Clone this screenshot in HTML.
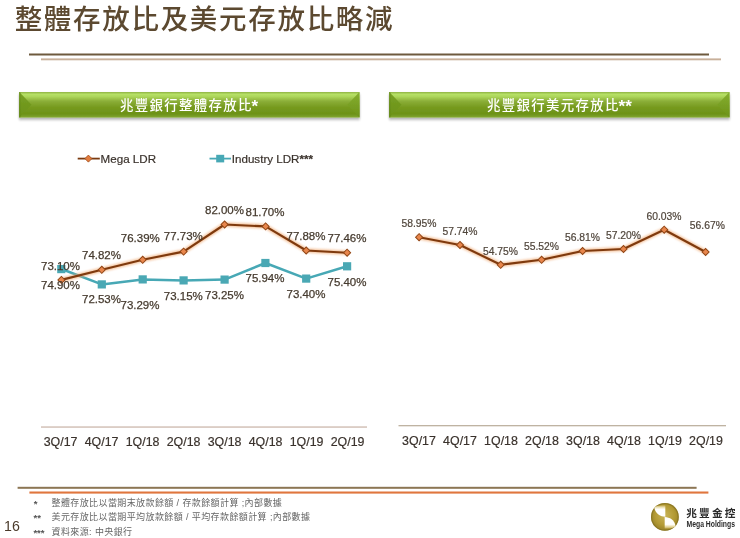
<!DOCTYPE html>
<html lang="zh-Hant">
<head>
<meta charset="utf-8">
<title>整體存放比及美元存放比略減</title>
<style>
html,body{margin:0;padding:0;background:#fff;}
body{width:740px;height:538px;overflow:hidden;position:relative;font-family:"Liberation Sans","Noto Sans CJK TC",sans-serif;}
svg{position:absolute;left:0;top:0;display:block;}
text{font-family:"Liberation Sans","Noto Sans CJK TC",sans-serif;}
.ttl{font-size:27.5px;fill:#5c4930;font-weight:500;letter-spacing:1.7px;}
.bar{font-size:13.4px;fill:#fff;font-weight:500;letter-spacing:1.37px;}
.ast{font-weight:700;font-size:17px;letter-spacing:0;}
.lbl{font-size:11.5px;fill:#453a2e;stroke:#453a2e;stroke-width:0.25px;}
.ax{font-size:12.4px;fill:#3a322c;stroke:#3a322c;stroke-width:0.2px;}
.leg{font-size:11.6px;fill:#3a322c;stroke:#3a322c;stroke-width:0.2px;}
.fn{font-size:9px;fill:#666;letter-spacing:0.4px;}
.pg{font-size:14.2px;fill:#4a3a2a;}
.fa{font-size:9.6px;font-weight:700;letter-spacing:0;fill:#555;}
.lg1{font-size:10.7px;fill:#2a2a2a;font-weight:700;letter-spacing:2.2px;}
.lg2{font-size:8.3px;fill:#2a2a2a;font-weight:700;}
</style>
</head>
<body>
<svg width="740" height="538" viewBox="0 0 740 538">
<defs>
  <linearGradient id="gbar" x1="0" y1="0" x2="0" y2="1">
    <stop offset="0" stop-color="#8fb344"/>
    <stop offset="0.09" stop-color="#b6e066"/>
    <stop offset="0.17" stop-color="#aed85c"/>
    <stop offset="0.36" stop-color="#8bae38"/>
    <stop offset="0.6" stop-color="#769a1f"/>
    <stop offset="0.86" stop-color="#6c9217"/>
    <stop offset="0.95" stop-color="#7a9f28"/>
    <stop offset="1" stop-color="#8aae3e"/>
  </linearGradient>
  <linearGradient id="gtri" x1="0" y1="0" x2="0" y2="1">
    <stop offset="0" stop-color="#7aa428"/>
    <stop offset="0.5" stop-color="#71981e"/>
    <stop offset="1" stop-color="#6c9217"/>
  </linearGradient>
  <linearGradient id="gtri2" x1="0" y1="0" x2="0" y2="1">
    <stop offset="0" stop-color="#86b032"/>
    <stop offset="0.5" stop-color="#79a024"/>
    <stop offset="1" stop-color="#6c9217"/>
  </linearGradient>
  <filter id="sh" x="-5%" y="-30%" width="110%" height="180%">
    <feGaussianBlur in="SourceAlpha" stdDeviation="1 1.5"/>
    <feOffset dx="0" dy="2.3"/>
    <feComponentTransfer><feFuncA type="linear" slope="0.33"/></feComponentTransfer>
    <feMerge><feMergeNode/><feMergeNode in="SourceGraphic"/></feMerge>
  </filter>
  <filter id="glow" x="-10%" y="-30%" width="120%" height="160%">
    <feGaussianBlur stdDeviation="0.9"/>
  </filter>
  <linearGradient id="w1" x1="0" y1="0" x2="0" y2="1">
    <stop offset="0" stop-color="#c4ac54"/>
    <stop offset="0.22" stop-color="#f3ebc8"/>
    <stop offset="0.36" stop-color="#ffffff"/>
    <stop offset="1" stop-color="#ffffff"/>
  </linearGradient>
  <linearGradient id="w2" x1="0" y1="1" x2="0" y2="0">
    <stop offset="0" stop-color="#c4ac54"/>
    <stop offset="0.22" stop-color="#efe4b8"/>
    <stop offset="0.36" stop-color="#fffefa"/>
    <stop offset="1" stop-color="#ffffff"/>
  </linearGradient>
  <radialGradient id="gold" cx="0.5" cy="0.45" r="0.6">
    <stop offset="0" stop-color="#c9b458"/>
    <stop offset="0.6" stop-color="#b39a34"/>
    <stop offset="1" stop-color="#8f7a24"/>
  </radialGradient>
</defs>
<rect width="740" height="538" fill="#fff"/>

<!-- title -->
<text class="ttl" x="14.65" y="28.5">整體存放比及美元存放比略減</text>
<rect x="29" y="53.5" width="680" height="2" fill="#6e5a3e"/>
<rect x="41" y="58.4" width="680" height="1.9" fill="#c8b09a"/>

<!-- green bars -->
<g filter="url(#sh)">
  <rect x="19.3" y="92" width="340.2" height="25.6" fill="url(#gbar)"/>
  <polygon points="19.3,92 31.5,104.8 19.3,117.6" fill="url(#gtri)"/>
  <rect x="19.3" y="92" width="1" height="25.6" fill="#5c8014" opacity="0.7"/>
  <polygon points="359.5,92 347.3,104.8 359.5,117.6" fill="url(#gtri2)"/>
</g>
<g filter="url(#sh)">
  <rect x="389.3" y="92" width="340.2" height="25.6" fill="url(#gbar)"/>
  <polygon points="389.3,92 401.5,104.8 389.3,117.6" fill="url(#gtri)"/>
  <rect x="389.3" y="92" width="1" height="25.6" fill="#5c8014" opacity="0.7"/>
  <polygon points="729.5,92 717.3,104.8 729.5,117.6" fill="url(#gtri2)"/>
</g>
<text class="bar" x="119.9" y="109.8">兆豐銀行整體存放比<tspan class="ast" dy="1.9" dx="-1.2">*</tspan></text>
<text class="bar" x="486.9" y="109.8">兆豐銀行美元存放比<tspan class="ast" dy="1.9" dx="-1.2">**</tspan></text>

<!-- legend -->
<g>
  <line x1="77.7" y1="158.6" x2="99.8" y2="158.6" stroke="#7a3a10" stroke-width="1.8"/>
  <rect x="-2.5" y="-2.5" width="5" height="5" transform="translate(88.4,158.6) rotate(45)" fill="#e27c3e" stroke="#9a4a1a" stroke-width="0.7"/>
  <text class="leg" x="100.6" y="162.5">Mega LDR</text>
  <line x1="209.5" y1="158.6" x2="231" y2="158.6" stroke="#47a8b5" stroke-width="1.8"/>
  <rect x="216.2" y="154.8" width="8" height="7.6" fill="#47a8b5"/>
  <text class="leg" x="231.8" y="162.5">Industry LDR<tspan style="font-weight:700">***</tspan></text>
</g>

<!-- left chart -->
<rect x="41" y="426.4" width="326" height="1.3" fill="#ccb8ad"/>
<g fill="none" stroke-linejoin="round" stroke-linecap="round">
  <polyline points="61.4,269 101.8,284.4 142.7,279.4 183.6,280.4 224.6,279.6 265.4,263 306.2,278.6 347.1,266.3" stroke="#47a8b5" stroke-width="2.5"/>
</g>
<g fill="#4aa8b4">
  <rect x="57.2" y="265.0" width="8.2" height="8.2"/>
  <rect x="97.7" y="280.3" width="8.2" height="8.2"/>
  <rect x="138.6" y="275.3" width="8.2" height="8.2"/>
  <rect x="179.5" y="276.3" width="8.2" height="8.2"/>
  <rect x="220.5" y="275.5" width="8.2" height="8.2"/>
  <rect x="261.3" y="258.9" width="8.2" height="8.2"/>
  <rect x="302.1" y="274.5" width="8.2" height="8.2"/>
  <rect x="343.0" y="262.2" width="8.2" height="8.2"/>
</g>
<polyline points="61.4,279.9 101.8,269.8 142.7,259.8 183.6,251.6 224.6,224.5 265.6,226.4 306.2,250.5 347.1,252.7" fill="none" stroke="#f0a870" stroke-width="4.6" stroke-linejoin="round" stroke-linecap="round" filter="url(#glow)" opacity="0.65"/>
<polyline points="61.4,279.9 101.8,269.8 142.7,259.8 183.6,251.6 224.6,224.5 265.6,226.4 306.2,250.5 347.1,252.7" fill="none" stroke="#7f3a0e" stroke-width="2.15" stroke-linejoin="round" stroke-linecap="round"/>
<g fill="#e8864c" stroke="#8f4414" stroke-width="0.95">
  <rect x="-2.5" y="-2.5" width="5" height="5" transform="translate(61.4,279.9) rotate(45)"/>
  <rect x="-2.5" y="-2.5" width="5" height="5" transform="translate(101.8,269.8) rotate(45)"/>
  <rect x="-2.5" y="-2.5" width="5" height="5" transform="translate(142.7,259.8) rotate(45)"/>
  <rect x="-2.5" y="-2.5" width="5" height="5" transform="translate(183.6,251.6) rotate(45)"/>
  <rect x="-2.5" y="-2.5" width="5" height="5" transform="translate(224.6,224.5) rotate(45)"/>
  <rect x="-2.5" y="-2.5" width="5" height="5" transform="translate(265.6,226.4) rotate(45)"/>
  <rect x="-2.5" y="-2.5" width="5" height="5" transform="translate(306.2,250.5) rotate(45)"/>
  <rect x="-2.5" y="-2.5" width="5" height="5" transform="translate(347.1,252.7) rotate(45)"/>
</g>
<g class="lbl" text-anchor="middle">
  <text x="60.5" y="270">73.10%</text>
  <text x="60.5" y="288.5">74.90%</text>
  <text x="101.5" y="259.1">74.82%</text>
  <text x="140.3" y="241.8">76.39%</text>
  <text x="183.3" y="240.2">77.73%</text>
  <text x="224.5" y="213.7">82.00%</text>
  <text x="265" y="216">81.70%</text>
  <text x="306" y="240">77.88%</text>
  <text x="347" y="241.8">77.46%</text>
  <text x="101.5" y="303.4">72.53%</text>
  <text x="140" y="309.3">73.29%</text>
  <text x="183.3" y="299.8">73.15%</text>
  <text x="224.5" y="299.3">73.25%</text>
  <text x="265" y="282.3">75.94%</text>
  <text x="306" y="297.5">73.40%</text>
  <text x="347" y="286">75.40%</text>
</g>
<g class="ax" text-anchor="middle">
  <text x="60.6" y="446.3">3Q/17</text>
  <text x="101.6" y="446.3">4Q/17</text>
  <text x="142.6" y="446.3">1Q/18</text>
  <text x="183.6" y="446.3">2Q/18</text>
  <text x="224.6" y="446.3">3Q/18</text>
  <text x="265.6" y="446.3">4Q/18</text>
  <text x="306.6" y="446.3">1Q/19</text>
  <text x="347.6" y="446.3">2Q/19</text>
</g>

<!-- right chart -->
<rect x="398.5" y="425.1" width="327.5" height="1.2" fill="#b8ab98"/>
<polyline points="419.1,237.2 460,245 500.7,264.8 541.6,259.8 582.6,251 623.5,249 664.2,229.7 705.6,252" fill="none" stroke="#f0a870" stroke-width="4.6" stroke-linejoin="round" stroke-linecap="round" filter="url(#glow)" opacity="0.65"/>
<polyline points="419.1,237.2 460,245 500.7,264.8 541.6,259.8 582.6,251 623.5,249 664.2,229.7 705.6,252" fill="none" stroke="#7f3a0e" stroke-width="2.15" stroke-linejoin="round" stroke-linecap="round"/>
<g fill="#e8864c" stroke="#8f4414" stroke-width="0.95">
  <rect x="-2.5" y="-2.5" width="5" height="5" transform="translate(419.1,237.2) rotate(45)"/>
  <rect x="-2.5" y="-2.5" width="5" height="5" transform="translate(460,245) rotate(45)"/>
  <rect x="-2.5" y="-2.5" width="5" height="5" transform="translate(500.7,264.8) rotate(45)"/>
  <rect x="-2.5" y="-2.5" width="5" height="5" transform="translate(541.6,259.8) rotate(45)"/>
  <rect x="-2.5" y="-2.5" width="5" height="5" transform="translate(582.6,251) rotate(45)"/>
  <rect x="-2.5" y="-2.5" width="5" height="5" transform="translate(623.5,249) rotate(45)"/>
  <rect x="-2.5" y="-2.5" width="5" height="5" transform="translate(664.2,229.7) rotate(45)"/>
  <rect x="-2.5" y="-2.5" width="5" height="5" transform="translate(705.6,252) rotate(45)"/>
</g>
<g class="lbl" text-anchor="middle" style="font-size:10.35px;fill:#50463c;stroke:#50463c;stroke-width:0.2px">
  <text x="419" y="227">58.95%</text>
  <text x="460" y="234.5">57.74%</text>
  <text x="500.5" y="254.5">54.75%</text>
  <text x="541.5" y="249.5">55.52%</text>
  <text x="582.5" y="241">56.81%</text>
  <text x="623.5" y="238.6">57.20%</text>
  <text x="664" y="219.5">60.03%</text>
  <text x="707.3" y="228.7">56.67%</text>
</g>
<g class="ax" text-anchor="middle">
  <text x="419" y="445.3">3Q/17</text>
  <text x="460" y="445.3">4Q/17</text>
  <text x="501" y="445.3">1Q/18</text>
  <text x="542" y="445.3">2Q/18</text>
  <text x="583" y="445.3">3Q/18</text>
  <text x="624" y="445.3">4Q/18</text>
  <text x="665" y="445.3">1Q/19</text>
  <text x="706" y="445.3">2Q/19</text>
</g>

<!-- footer -->
<rect x="17.6" y="486.8" width="679" height="2" fill="#8c7654"/>
<rect x="29.4" y="491.5" width="679" height="2.1" fill="#e0763e"/>
<g class="fn">
  <text class="fa" x="33.8" y="506.9">*</text>
  <text x="51.5" y="506.3">整體存放比以當期末放款餘額 / 存款餘額計算 ;內部數據</text>
  <text class="fa" x="33.6" y="521.1">**</text>
  <text x="51.5" y="520.4">美元存放比以當期平均放款餘額 / 平均存款餘額計算 ;內部數據</text>
  <text class="fa" x="33.4" y="535.6">***</text>
  <text x="51.5" y="535">資料來源: 中央銀行</text>
</g>
<text class="pg" x="4" y="530.8">16</text>

<!-- logo -->
<g>
  <circle cx="664.9" cy="516.9" r="13.9" fill="url(#gold)"/>
  <circle cx="664.9" cy="516.9" r="13.3" fill="none" stroke="#7c6a1c" stroke-width="1.2" opacity="0.55"/>
  <path d="M654.3 507.6 C656 505.6 661 504.9 665.3 505.4 L665.3 516.8 C660.4 516.6 655.3 513.8 654.3 507.6 Z" fill="url(#w1)"/>
  <path d="M675.6 526.2 C674 528.2 669 528.9 664.7 528.4 L664.7 517 C669.6 517.2 674.7 520 675.6 526.2 Z" fill="url(#w2)"/>
  <text class="lg1" x="686.2" y="516.6">兆豐金控</text>
  <text class="lg2" x="686.5" y="526.6" textLength="48.5" lengthAdjust="spacingAndGlyphs">Mega Holdings</text>
</g>
</svg>
</body>
</html>
